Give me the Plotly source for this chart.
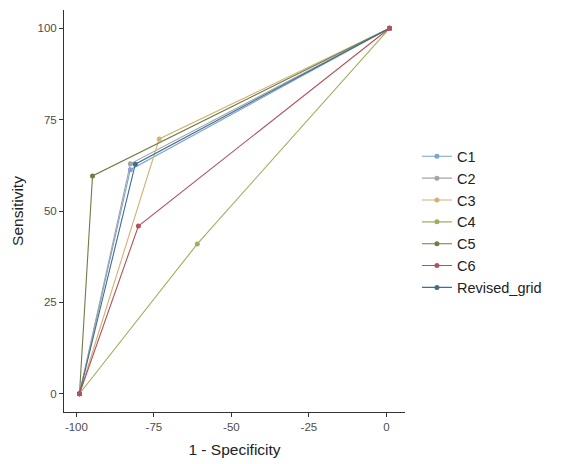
import plotly.graph_objects as go

names = ["C1", "C2", "C3", "C4", "C5", "C6", "Revised_grid"]
colors = ["#7ba3d6", "#a3a3a8", "#d3b272", "#9fae5a", "#6e7d45", "#b2525c", "#3f6e8e"]
mid_x = [-82.6, -82.6, -73.3, -61.0, -94.8, -80.0, -81.0]
mid_y = [61.3, 62.9, 69.7, 41.0, 59.6, 45.9, 62.8]
start_pt = (-99, 0)
end_pt = (1, 100)
x_ticks = [-100, -75, -50, -25, 0]
x_tick_text = ["-100", "-75", "-50", "-25", "0"]
y_ticks = [0, 25, 50, 75, 100]
y_tick_text = ["0", "25", "50", "75", "100"]

draw_order = [0, 1, 2, 3, 4, 6, 5]

fig = go.Figure()
for i in draw_order:
    fig.add_trace(go.Scatter(
        x=[start_pt[0], mid_x[i], end_pt[0]],
        y=[start_pt[1], mid_y[i], end_pt[1]],
        mode="lines+markers",
        name=names[i],
        legendrank=i + 1,
        line=dict(color=colors[i], width=1.1),
        marker=dict(color=colors[i], size=5),
    ))

axis_common = dict(
    showgrid=False, zeroline=False, showline=True, linecolor="#333333", linewidth=1,
    ticks="outside", ticklen=4, tickcolor="#333333",
    tickfont=dict(size=11.5, color="#4d4d4d"), automargin=False,
)

fig.update_layout(
    width=567, height=464,
    margin=dict(l=64, r=162, t=10, b=52),
    paper_bgcolor="white", plot_bgcolor="white",
    font=dict(family="Liberation Sans, Arial, sans-serif", color="#222222"),
    xaxis=dict(range=[-104, 6], tickvals=x_ticks, ticktext=x_tick_text,
               title=dict(text="1 - Specificity", font=dict(size=15.5), standoff=12), **axis_common),
    yaxis=dict(range=[-5, 105], tickvals=y_ticks, ticktext=y_tick_text,
               title=dict(text="Sensitivity", font=dict(size=15.5), standoff=10), **axis_common),
    legend=dict(x=1.035, y=0.473, xanchor="left", yanchor="middle", font=dict(size=14.5, color="#222222"),
                bgcolor="rgba(0,0,0,0)", itemwidth=30, tracegroupgap=0),
    showlegend=True,
)

fig.write_html("out.html")
